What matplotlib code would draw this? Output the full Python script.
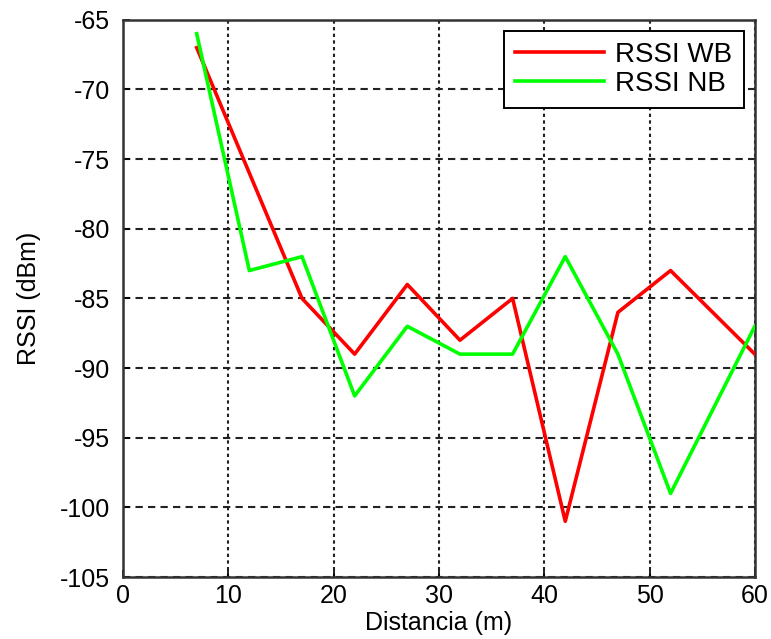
import numpy as np
import matplotlib.pyplot as plt

plt.rcParams['font.family'] = ['Liberation Sans', 'DejaVu Sans']
plt.rcParams['axes.unicode_minus'] = False

distancia = [7, 12, 17, 22, 27, 32, 37, 42, 47, 52, 60]
rssi_wb = [-67, -76, -85, -89, -84, -88, -85, -101, -86, -83, -89]
rssi_nb = [-66, -83, -82, -92, -87, -89, -89, -82, -89, -99, -87]

fig = plt.figure(figsize=(7.71, 6.39), dpi=100)
ax = fig.add_axes([0.1595, 0.097, 0.8195, 0.872])

ax.plot(distancia, rssi_wb, color='#ff0000', lw=2.6, label='RSSI WB', zorder=3)
ax.plot(distancia, rssi_nb, color='#00ff00', lw=2.6, label='RSSI NB', zorder=3)

ax.set_xlim(0, 60)
ax.set_ylim(-105, -65)
ax.set_xticks(np.arange(0, 61, 10))
ax.set_yticks(np.arange(-105, -64, 5))

# dashed horizontal lines, dotted vertical ones
ax.yaxis.grid(True, color='#222222', linestyle=(0, (3.5, 2.5)), linewidth=1.5)
ax.xaxis.grid(True, color='#222222', linestyle=(0, (1.6, 1.6)), linewidth=1.5)
ax.tick_params(direction='in', labelsize=18, length=5, width=1.2)
ax.tick_params(axis='x', pad=5)
ax.tick_params(axis='y', pad=9)
for s in ax.spines.values():
    s.set_linewidth(1.8)
    s.set_color('#333333')

ax.set_xlabel('Distancia (m)', fontsize=18, labelpad=2)
ax.set_ylabel('RSSI (dBm)', fontsize=18, labelpad=14)

leg = ax.legend(loc='upper right', fontsize=20, fancybox=False, framealpha=1,
                edgecolor='black', handlelength=3.2, borderaxespad=0.4,
                labelspacing=0.1, borderpad=0.4, handletextpad=0.4)
leg.get_frame().set_linewidth(1.4)

plt.savefig('out.png', dpi=100)
